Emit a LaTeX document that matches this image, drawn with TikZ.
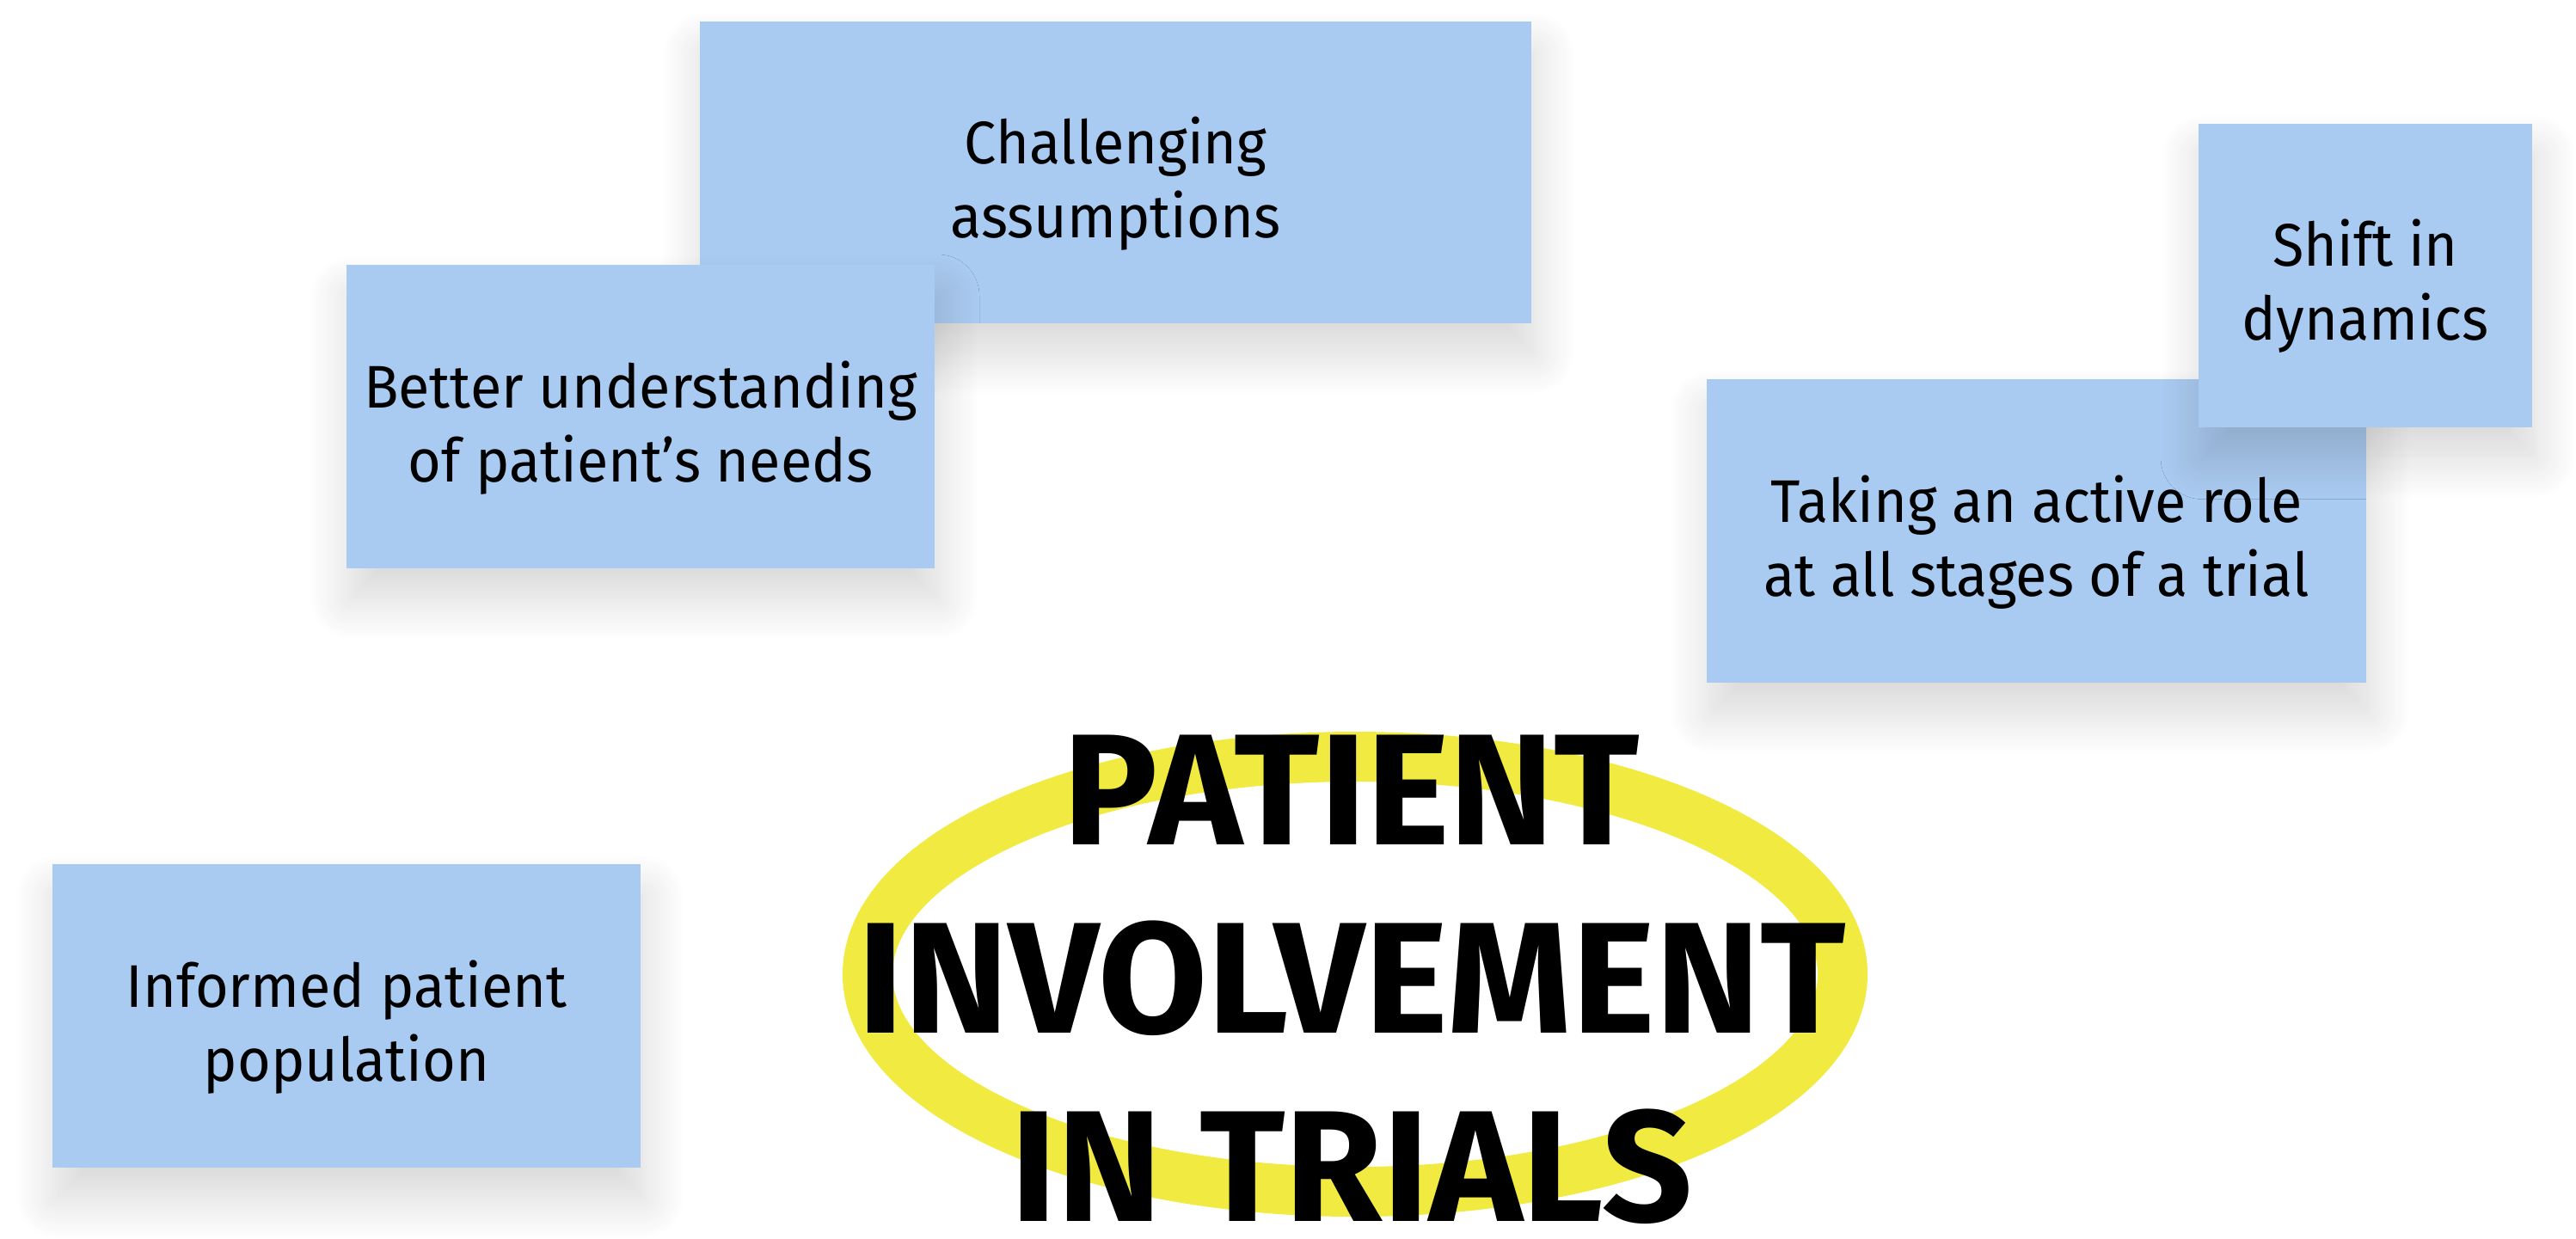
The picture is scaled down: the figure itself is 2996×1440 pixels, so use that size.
\documentclass[tikz,border=0pt]{standalone}
\usepackage{fontspec}
\setmainfont{Fira Sans}
\newfontfamily\notefont[FakeStretch=0.95]{Fira Sans}
\usepackage{tikz}
\usetikzlibrary{shadows.blur}
\usepackage{xcolor}
\definecolor{notecol}{RGB}{170,203,241}
\definecolor{ringcol}{RGB}{240,234,65}
\newcommand{\notestrut}{\rule{0pt}{20pt}}

\begin{document}
\begin{tikzpicture}[x=0.25pt,y=0.25pt,yscale=-1,xscale=1,
  note/.style={fill=notecol, draw=none, inner sep=0pt, align=center,
    font=\notefont\fontsize{17.5}{21.5}\selectfont,
    blur shadow={shadow xshift=1pt, shadow yshift=-9pt, shadow blur radius=12pt, shadow blur steps=24, shadow opacity=16}},
  title/.style={inner sep=0pt, align=center, font=\fontsize{46}{54.75}\selectfont\bfseries}]
%set diagram to the size of the reference
\useasboundingbox (0,0) rectangle (2996,1440);

%Shape: Rectangle [challenging]
\node [note, minimum width=241.75pt, minimum height=87.75pt] (chal) at (1297.5,200.5) {\notestrut Challenging\\assumptions};
%Shape: Rectangle [better]
\node [note, minimum width=171pt, minimum height=88.25pt] (better) at (745,484.5) {\notestrut Better understanding\\of patient’s needs};
%Shape: Rectangle [taking]
\node [note, minimum width=191.75pt, minimum height=88.25pt] (taking) at (2368.5,617.5) {\notestrut Taking an active role\\at all stages of a trial};
%Shape: Rectangle [shift]
\node [note, minimum width=97pt, minimum height=88.25pt] (shift) at (2751,320) {\notestrut Shift in\\dynamics};
%Shape: Rectangle [informed]
\node [note, minimum width=171pt, minimum height=88.25pt] (informed) at (403,1181.5) {\notestrut Informed patient\\population};

%Shape: Ellipse [ring]
\draw [ringcol, line width=14.5pt] (1576,1133) ellipse [x radius=567, y radius=253];

% Text Node
\node [title, anchor=north] (main) at (1572,854) {PATIENT\\INVOLVEMENT\\IN TRIALS};

\end{tikzpicture}
\end{document}
